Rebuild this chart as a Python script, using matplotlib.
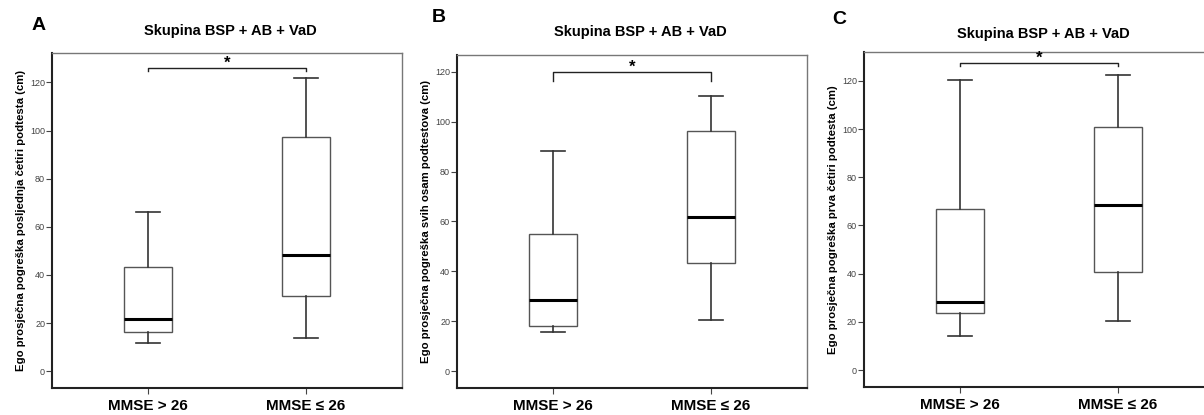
import matplotlib
matplotlib.use("Agg")
import matplotlib.pyplot as plt

# %% Dane
kategorije = ["MMSE > 26", "MMSE ≤ 26"]
naslov = "Skupina BSP + AB + VaD"
slova = ["A", "B", "C"]
y_oznake = [
    "Ego prosječna pogreška posljednja četiri podtesta (cm)",
    "Ego prosječna pogreška svih osam podtestova (cm)",
    "Ego prosječna pogreška prva četiri podtesta (cm)",
]
# (donji brk, Q1, medijan, Q3, gornji brk) za svaku skupinu
panel_a = [(11.9, 16.3, 21.5, 43.1, 66.1), (13.7, 31.2, 48.2, 97.4, 121.8)]
panel_b = [(15.8, 18.0, 28.5, 54.8, 88.3), (20.4, 43.4, 61.6, 96.2, 110.1)]
panel_c = [(14.1, 23.8, 28.2, 66.7, 120.2), (20.5, 40.8, 68.6, 101.0, 122.3)]
zagrade = [126.2, 120.0, 127.3]
ylims = [(-7.0, 132.2), (-6.8, 126.7), (-6.9, 132.1)]
yticks = [0, 20, 40, 60, 80, 100, 120]

# %% Crtanje
plt.rcParams["font.family"] = ["Liberation Sans", "DejaVu Sans"]
fig = plt.figure(figsize=(12.04, 4.15), dpi=100)

pozicije = [
    [0.0432, 0.065, 0.2907, 0.807],
    [0.3796, 0.065, 0.2907, 0.8024],
    [0.7176, 0.0682, 0.2907, 0.8072],
]
slova_xy = [(39, 25), (439, 18), (839, 19)]
naslov_xy = [(230, 31), (640, 32), (1043, 34)]
zagrada_px = [3, 9, 3]

for i, podaci in enumerate([panel_a, panel_b, panel_c]):
    ax = fig.add_axes(pozicije[i])
    stats = []
    for (lo, q1, med, q3, hi), lab in zip(podaci, kategorije):
        stats.append(dict(whislo=lo, q1=q1, med=med, q3=q3, whishi=hi,
                          label=lab, fliers=[]))
    ax.bxp(stats, positions=[1, 2], widths=0.30, showfliers=False,
           patch_artist=True,
           boxprops=dict(facecolor="white", edgecolor="#555555", linewidth=1.0),
           medianprops=dict(color="black", linewidth=2.2),
           whiskerprops=dict(color="#333333", linewidth=1.2),
           capprops=dict(color="#333333", linewidth=1.2))
    ax.set_xlim(0.392, 2.608)
    ax.set_ylim(*ylims[i])
    ax.set_yticks(yticks)
    ax.set_yticklabels([str(t) for t in yticks], fontsize=6.5, color="#444444")
    ax.tick_params(axis="y", length=4, width=0.8, color="#444444", pad=1)
    ax.tick_params(axis="x", length=4, width=0.8, color="#444444", pad=4)
    for t in ax.get_xticklabels():
        t.set_fontsize(11)
        t.set_fontweight("bold")
    ax.set_ylabel(y_oznake[i], fontsize=8.2, fontweight="bold", labelpad=3)
    for s in ["left", "bottom"]:
        ax.spines[s].set_linewidth(1.5)
        ax.spines[s].set_color("#222222")
    for s in ["top", "right"]:
        ax.spines[s].set_linewidth(1.0)
        ax.spines[s].set_color("#777777")

    # zagrada značajnosti
    y = zagrade[i]
    d = zagrada_px[i] * (ylims[i][1] - ylims[i][0]) / (pozicije[i][3] * 415)
    ax.plot([1, 1, 2, 2], [y - d, y, y, y - d], color="#222222", linewidth=1.0)
    ax.annotate("*", xy=(1.5, y), xytext=(0, -2), textcoords="offset points",
                ha="center", va="bottom", fontsize=12, fontweight="bold")

    fig.text(slova_xy[i][0] / 1204, 1 - slova_xy[i][1] / 415, slova[i],
             ha="center", va="center", fontsize=14, fontweight="bold")
    fig.text(naslov_xy[i][0] / 1204, 1 - naslov_xy[i][1] / 415, naslov,
             ha="center", va="center", fontsize=10.5, fontweight="bold")

fig.savefig("out.png", dpi=100)
